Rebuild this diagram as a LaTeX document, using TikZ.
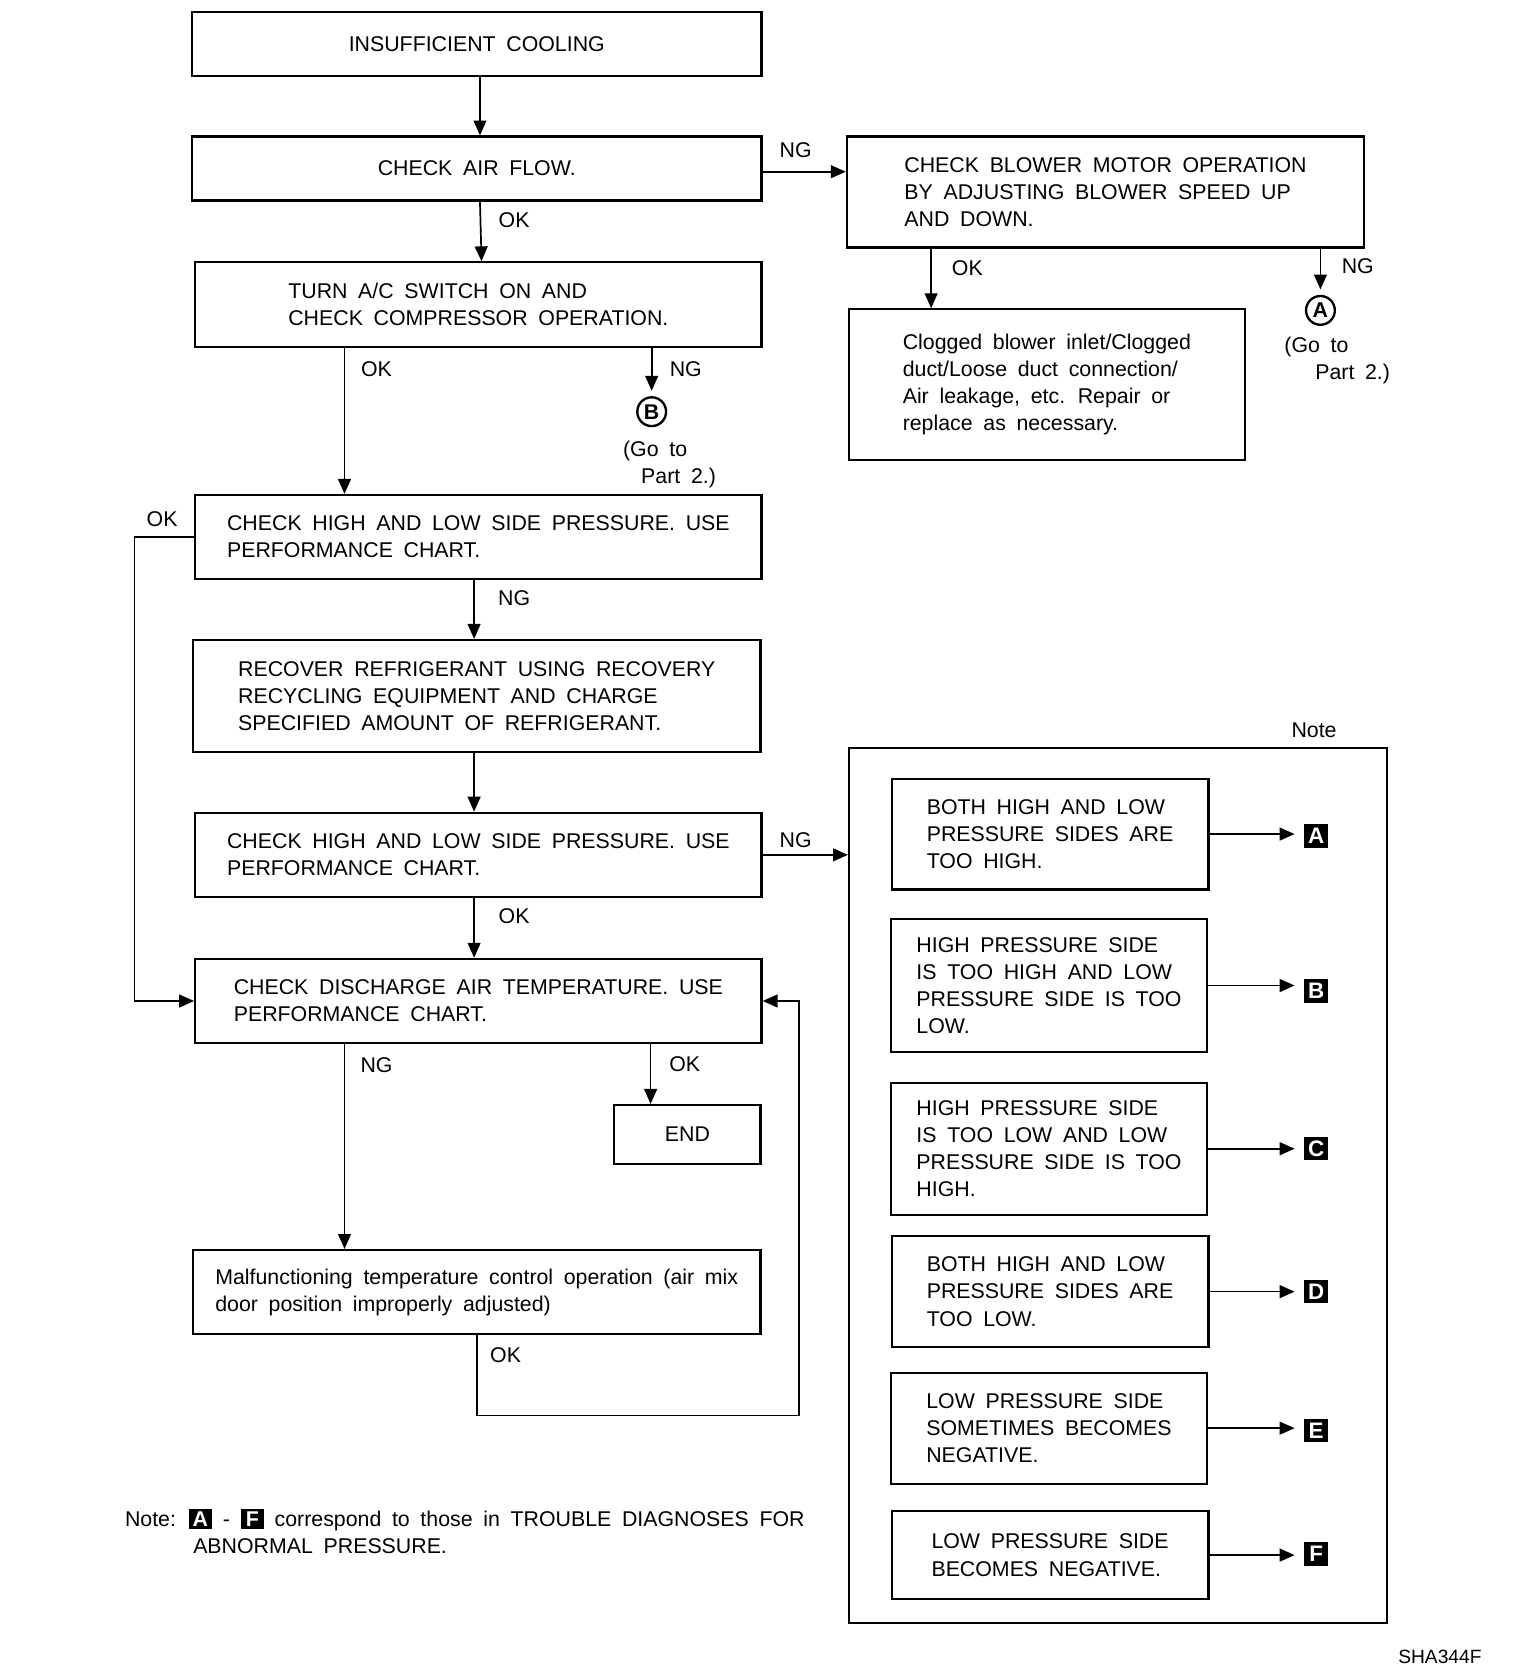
\documentclass[tikz,border=0pt]{standalone}
\usepackage{fontspec}
\setmainfont{Liberation Sans}[WordSpace=1.8]
\usetikzlibrary{positioning}
\usetikzlibrary{arrows.meta}
\newcommand{\boxletter}[1]{{\setlength{\fboxsep}{2.5pt}\colorbox{black}{\makebox[17pt]{\textcolor{white}{\bfseries #1}}}}}

\begin{document}
\begin{tikzpicture}[x=1pt,y=-1pt,
				font=\fontsize{20}{25.5}\selectfont,
				box/.style={draw,line width=2pt,align=left,inner sep=0pt},
				flow/.style={line width=1.6pt,-{Triangle[length=14pt,width=12pt]}},
				lbl/.style={inner sep=0pt},
				ring/.style={draw,circle,line width=2.2pt,minimum size=27pt,inner sep=0pt,font=\fontsize{20}{20}\selectfont\bfseries},
				sq/.style={fill=black,text=white,minimum width=22pt,minimum height=22pt,inner sep=0pt,font=\fontsize{21}{21}\selectfont\bfseries}]
			\useasboundingbox (0,0) rectangle (1440,1562);
			 \node[box,minimum width=534pt,minimum height=60pt] (b1) at (447,41) {INSUFFICIENT COOLING};
			 \node[box,minimum width=534pt,minimum height=60pt] (b2) at (447,158) {CHECK AIR FLOW.};
			 \node[box,minimum width=485pt,minimum height=104pt] (blower) at (1036.5,180) {CHECK BLOWER MOTOR OPERATION\\BY ADJUSTING BLOWER SPEED UP\\AND DOWN.};
			 \node[box,minimum width=371pt,minimum height=141pt] (clog) at (981.5,360.5) {Clogged blower inlet/Clogged\\duct/Loose duct connection/\\Air leakage, etc. Repair or\\replace as necessary.};
			 \node[box,minimum width=531pt,minimum height=79pt] (b3) at (448.5,285.5) {TURN A/C SWITCH ON AND\\CHECK COMPRESSOR OPERATION.};
			 \node[box,minimum width=531pt,minimum height=79pt] (b4) at (448.5,503.5) {CHECK HIGH AND LOW SIDE PRESSURE. USE\\PERFORMANCE CHART.};
			 \node[box,minimum width=532pt,minimum height=105pt] (b5) at (447,652.5) {RECOVER REFRIGERANT USING RECOVERY\\RECYCLING EQUIPMENT AND CHARGE\\SPECIFIED AMOUNT OF REFRIGERANT.};
			 \node[box,minimum width=531pt,minimum height=79pt] (b6) at (448.5,801.5) {CHECK HIGH AND LOW SIDE PRESSURE. USE\\PERFORMANCE CHART.};
			 \node[box,minimum width=531pt,minimum height=79pt] (b7) at (448.5,938.5) {CHECK DISCHARGE AIR TEMPERATURE. USE\\PERFORMANCE CHART.};
			 \node[box,minimum width=137pt,minimum height=55pt] (endb) at (644.5,1063.5) {END};
			 \node[box,minimum width=532pt,minimum height=79pt] (b8) at (447,1211.5) {Malfunctioning temperature control operation (air mix\\door position improperly adjusted)};

			 \node[ring] (cA) at (1238,291) {A};
			 \node[lbl,anchor=north west,align=left] (goA) at (1204,316) {(Go to\\\hspace*{29pt}Part 2.)};
			 \node[ring] (cB) at (611,386) {B};
			 \node[lbl,anchor=north west,align=left] (goB) at (584,413) {(Go to\\\hspace*{17pt}Part 2.)};

			 \node[draw,line width=2pt,minimum width=504pt,minimum height=821pt,inner sep=0pt] (note) at (1048,1111.5) {};
			 \node[lbl] (notelbl) at (1232,685) {Note};
			 \node[box,minimum width=297pt,minimum height=104pt] (nA) at (984.5,782) {BOTH HIGH AND LOW\\PRESSURE SIDES ARE\\TOO HIGH.};
			 \node[box,minimum width=297pt,minimum height=124pt] (nB) at (983.5,924) {HIGH PRESSURE SIDE\\IS TOO HIGH AND LOW\\PRESSURE SIDE IS TOO\\LOW.};
			 \node[box,minimum width=297pt,minimum height=124pt] (nC) at (983.5,1077) {HIGH PRESSURE SIDE\\IS TOO LOW AND LOW\\PRESSURE SIDE IS TOO\\HIGH.};
			 \node[box,minimum width=297pt,minimum height=104pt] (nD) at (984.5,1211) {BOTH HIGH AND LOW\\PRESSURE SIDES ARE\\TOO LOW.};
			 \node[box,minimum width=297pt,minimum height=104pt] (nE) at (983.5,1339) {LOW PRESSURE SIDE\\SOMETIMES BECOMES\\NEGATIVE.};
			 \node[box,minimum width=297pt,minimum height=82pt] (nF) at (984.5,1458) {LOW PRESSURE SIDE\\BECOMES NEGATIVE.};
			 \node[sq] (mA) at (1234,784) {A};
			 \node[sq] (mB) at (1234,929) {B};
			 \node[sq] (mC) at (1234,1077) {C};
			 \node[sq] (mD) at (1234,1211) {D};
			 \node[sq] (mE) at (1234,1341) {E};
			 \node[sq] (mF) at (1234,1457) {F};

			 \draw[flow] ([xshift=3pt]b1.south) -- ([xshift=3pt]b2.north);
			 \draw[flow] ([yshift=-3pt]b2.east) -- ([yshift=-3pt]b2.east -| blower.west);
			 \draw[flow] ([xshift=3pt]b2.south) -- ([xshift=3pt]b3.north);
			 \draw[flow] ([xshift=-163.5pt]blower.south) -- ([xshift=-163.5pt]blower.south |- clog.north);
			 \draw[flow,shorten >=5pt] (blower.south -| cA.north) -- (cA.north);
			 \draw[flow] ([xshift=-125.5pt]b3.south) -- ([xshift=-125.5pt]b3.south |- b4.north);
			 \draw[flow,shorten >=5pt] (b3.south -| cB.north) -- (cB.north);
			 \draw[flow] (b4.west) -- ++(-56,0) |- (b7.west);
			 \draw[flow] ([xshift=-4pt]b4.south) -- ([xshift=-4pt]b4.south |- b5.north);
			 \draw[flow] ([xshift=-4pt]b6.north |- b5.south) -- ([xshift=-4pt]b6.north);
			 \draw[flow] (b6.east) -- (b6.east -| note.west);
			 \draw[flow] ([xshift=-4pt]b6.south) -- ([xshift=-4pt]b7.north);
			 \draw[flow] ([xshift=-125.5pt]b7.south) -- ([xshift=-125.5pt]b7.south |- b8.north);
			 \draw[flow] ([xshift=-34.5pt]endb.north |- b7.south) -- ([xshift=-34.5pt]endb.north);
			 \coordinate (loop) at (749,1327);
			 \draw[flow] (b8.south) |- (loop) |- (b7.east);
			 \foreach \k in {A,B,C,D,E,F}
				\draw[flow,shorten >=9pt] (n\k.east) -- (n\k.east -| m\k.west);

			 \node[lbl] (ng1) at (746,141) {NG};
			 \node[lbl] (ok1) at (482,206) {OK};
			 \node[lbl] (ok2) at (907,251) {OK};
			 \node[lbl] (ng2) at (1273,250) {NG};
			 \node[lbl] (ok3) at (353,346) {OK};
			 \node[lbl] (ng3) at (643,346) {NG};
			 \node[lbl] (ok4) at (152,487) {OK};
			 \node[lbl] (ng4) at (482,561) {NG};
			 \node[lbl] (ng5) at (746,788) {NG};
			 \node[lbl] (ok5) at (482,859) {OK};
			 \node[lbl] (ng6) at (353,999) {NG};
			 \node[lbl] (ok6) at (642,998) {OK};
			 \node[lbl] (ok7) at (474,1271) {OK};

			 \node[lbl,anchor=north west,align=left] (foot) at (117,1415) {Note: \boxletter{A} - \boxletter{F} correspond to those in TROUBLE DIAGNOSES FOR\\\hspace*{64pt}ABNORMAL PRESSURE.};
			 \node[lbl,font=\fontsize{18}{20}\selectfont] (code) at (1350,1553) {SHA344F};
			\end{tikzpicture}
\end{document}
